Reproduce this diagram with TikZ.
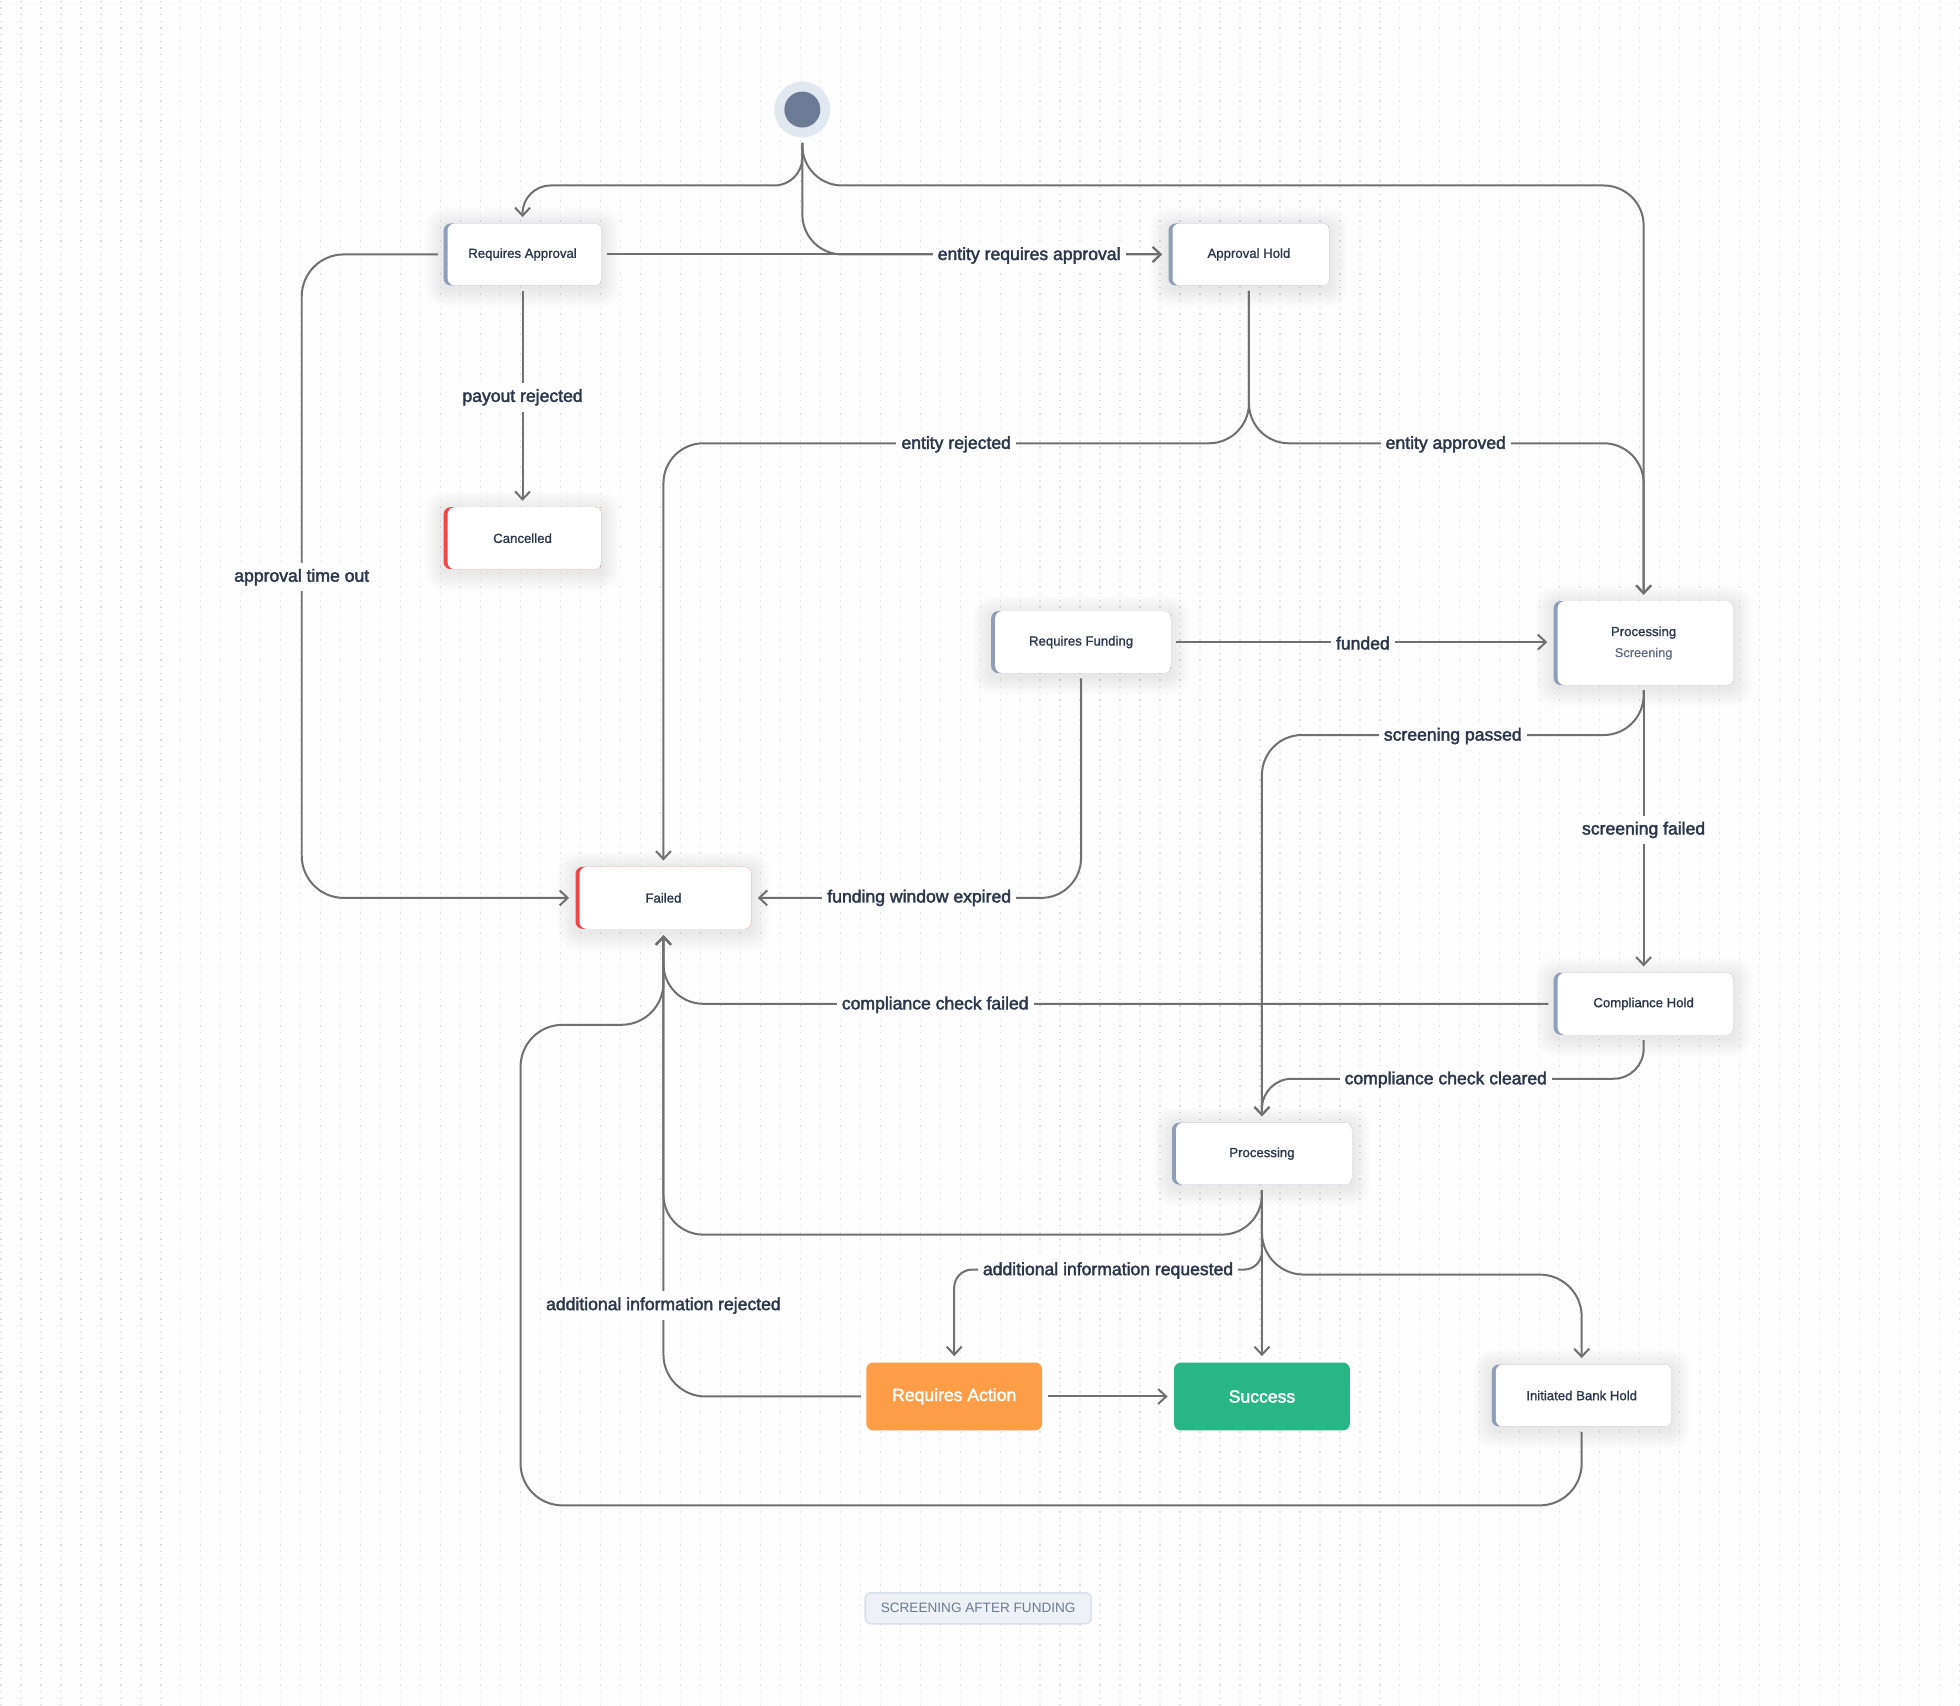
\documentclass[tikz,border=0pt]{standalone}
\usepackage{fontspec}
\setmainfont{Liberation Sans}
\newfontfamily\medfont{Liberation Sans}[FakeBold=1.1]
\newfontfamily\semifont{Liberation Sans}[FakeBold=2.2]
\usetikzlibrary{arrows.meta, calc}

\definecolor{bgc}{HTML}{FDFDFD}
\definecolor{gridc}{HTML}{DDDDDD}
\definecolor{linec}{HTML}{707070}
\definecolor{txt}{HTML}{2B364A}
\definecolor{subtxt}{HTML}{5F6B7E}
\definecolor{accent}{HTML}{8E9EB8}
\definecolor{redacc}{HTML}{EF4646}
\definecolor{halo}{HTML}{E2E8F0}
\definecolor{startc}{HTML}{6C7A93}
\definecolor{orangec}{HTML}{FD9D47}
\definecolor{greenc}{HTML}{28B686}
\definecolor{badgefill}{HTML}{EEF2F7}
\definecolor{badgeline}{HTML}{D9E1EC}
\definecolor{badgetxt}{HTML}{6B7A90}

\pgfdeclarelayer{gridlayer}
\pgfdeclarelayer{shadowlayer}
\pgfsetlayers{gridlayer,shadowlayer,main}

\tikzset{
  statebox/.style={rounded corners=3.5pt, fill=#1, inner sep=0pt, text=txt,
    minimum width=90pt, minimum height=31pt, align=center,
    font=\medfont\fontsize{6.6}{11}\selectfont,
    path picture={\fill[white, rounded corners=3.5pt]
      ([xshift=2pt]path picture bounding box.south west) rectangle (path picture bounding box.north east);}},
  actbox/.style={rounded corners=3.5pt, fill=#1, inner sep=0pt, text=white,
    minimum width=88pt, minimum height=34pt,
    font=\semifont\fontsize{8.8}{10}\selectfont},
  edge/.style={draw=linec, line width=1pt, shorten <=2.5pt, shorten >=3pt,
    -{Straight Barb[length=4pt, width=7.5pt]}},
  lbl/.style={fill=bgc, inner xsep=2.5pt, inner ysep=3pt, text=txt, yshift=-0.5pt,
    font=\semifont\fontsize{8.8}{10}\selectfont},
  badge/.style={rounded corners=3pt, fill=badgefill, draw=badgeline, line width=0.8pt,
    minimum width=113pt, minimum height=15.5pt, inner sep=0pt, text=badgetxt,
    font=\fontsize{6.8}{8}\selectfont},
  softshadow/.style={fill=black, opacity=0.007}
}

\begin{document}
\begin{tikzpicture}[x=0.5pt, y=-0.5pt]
\begin{pgfonlayer}{gridlayer}
\fill[bgc] (0,0) rectangle (1960,1706);
\foreach \gx in {1,21,...,1961}
  \draw[gridc, line width=0.65pt, dash pattern=on 0.65pt off 2.68pt] (\gx,0) -- (\gx,1706);
\end{pgfonlayer}
\useasboundingbox (0,0) rectangle (1960,1706);

% start
\node[circle, fill=halo, minimum size=28pt, inner sep=0pt] (st) at (803,109) {};
\node[circle, fill=startc, minimum size=18pt, inner sep=0pt] (sti) at (803,109) {};

% states
\node[statebox=accent, minimum width=79pt] (ra) at (523,254) {Requires Approval};
\node[statebox=redacc, minimum width=79pt] (can) at (523,538) {Cancelled};
\node[statebox=accent, minimum width=80.5pt] (ah) at (1250,254) {Approval Hold};
\node[statebox=accent] (rf) at (1082,642) {Requires Funding};
\node[statebox=accent, minimum height=42pt] (ps) at (1645,643) {Processing\\[-0.5pt]{\color{subtxt}\fontspec{Liberation Sans}[FakeBold=0.4]\fontsize{6.4}{11}\selectfont Screening}};
\node[statebox=redacc, minimum width=88pt] (fail) at (664,898) {Failed};
\node[statebox=accent] (ch) at (1645,1004) {Compliance Hold};
\node[statebox=accent] (proc) at (1263,1154) {Processing};
\node[actbox=orangec] (act) at (955,1397) {Requires Action};
\node[actbox=greenc] (succ) at (1263,1397) {Success};
\node[statebox=accent] (ibh) at (1583,1396) {Initiated Bank Hold};

% soft shadows behind the state boxes
\begin{pgfonlayer}{shadowlayer}
\foreach \n in {ra,can,ah,rf,ps,fail,ch,proc,ibh}
  \foreach \k in {1,...,10}
    \fill[softshadow, rounded corners=3.5pt+0.6*\k pt]
      ($(\n.south west)+(-\k*1.8,\k*1.8+3)$) rectangle ($(\n.north east)+(\k*1.8,-\k*1.8+3)$);
\end{pgfonlayer}

% helper coordinates
\coordinate (hTop) at (0,185);
\coordinate (hAH) at (0,443);
\coordinate (vApp) at (302,0);
\coordinate (hSP) at (0,735);
\coordinate (hCC) at (0,1079);
\coordinate (hPF) at (0,1235);
\coordinate (hAI) at (0,1270);
\coordinate (hBH) at (0,1275);
\coordinate (hBot) at (0,1506);
\coordinate (vLoop) at (521,0);
\coordinate (hLoop) at (0,1025);

% edges
\draw[edge, rounded corners=14pt] (st.south) -- (st.south |- hTop) -| (ra.north);
\draw[edge, rounded corners=20pt] (st.south) |- (ah.west);
\draw[edge, rounded corners=20pt] (st.south) -- (st.south |- hTop) -| (ps.north);
\draw[edge] (ra.east) -- (ah.west);
\draw[edge] (ra.south) -- (can.north);
\draw[edge, rounded corners=21pt] (ra.west) -- (ra.west -| vApp) |- (fail.west);
\draw[edge, rounded corners=20pt] (ah.south) -- (ah.south |- hAH) -| (fail.north);
\draw[edge, rounded corners=20pt] (ah.south) -- (ah.south |- hAH) -| (ps.north);
\draw[edge] (rf.east) -- (rf.east -| ps.west);
\draw[edge, rounded corners=20pt] (rf.south) |- (fail.east);
\draw[edge, rounded corners=20pt] (ps.south) -- (ps.south |- hSP) -| (proc.north);
\draw[edge] (ps.south) -- (ch.north);
\draw[edge, rounded corners=20pt] (ch.west) -| (fail.south);
\draw[edge, rounded corners=15pt] (ch.south) -- (ch.south |- hCC) -| (proc.north);
\draw[edge, rounded corners=20pt] (proc.south) -- (proc.south |- hPF) -| (fail.south);
\draw[edge, rounded corners=9pt] (proc.south) -- (proc.south |- hAI) -| (act.north);
\draw[edge] (proc.south) -- (succ.north);
\draw[edge, rounded corners=21pt] (proc.south) -- (proc.south |- hBH) -| (ibh.north);
\draw[edge, rounded corners=21pt] (ibh.south) -- (ibh.south |- hBot) -| (vLoop |- hLoop) -| (fail.south);
\draw[edge, rounded corners=21pt] (act.west) -| (fail.south);
\draw[edge] (act.east) -- (succ.west);

% labels
\node[lbl] (l1) at (1030,254) {entity requires approval};
\node[lbl] (l2) at (523,396) {payout rejected};
\node[lbl] (l3) at (302,576) {approval time out};
\node[lbl] (l4) at (957,443) {entity rejected};
\node[lbl] (l5) at (1447,443) {entity approved};
\node[lbl] (l6) at (1364,642) {funded};
\node[lbl] (l7) at (920,897) {funding window expired};
\node[lbl] (l8) at (1454,735) {screening passed};
\node[lbl] (l9) at (1645,829) {screening failed};
\node[lbl] (l10) at (936,1004) {compliance check failed};
\node[lbl] (l11) at (1447,1079) {compliance check cleared};
\node[lbl] (l12) at (1109,1270) {additional information requested};
\node[lbl] (l13) at (664,1305) {additional information rejected};

% caption
\node[badge] (cap) at (979,1609) {SCREENING AFTER FUNDING};
\end{tikzpicture}
\end{document}
